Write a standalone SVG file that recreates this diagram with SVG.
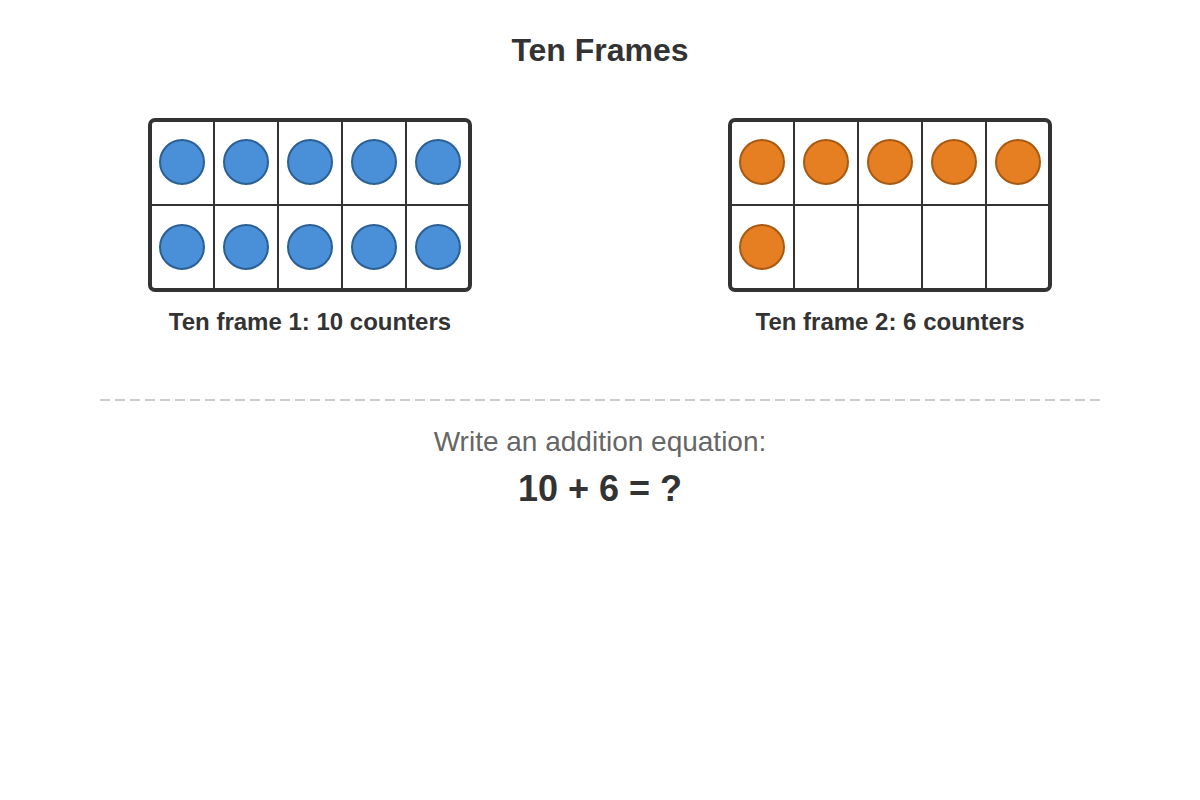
<svg xmlns="http://www.w3.org/2000/svg" width="1200" height="800" viewBox="0 0 1200 800">
<style>
.t{font-family:"Liberation Sans",Arial,sans-serif;fill:#333;text-anchor:middle}
.frame{fill:#fff;stroke:#333;stroke-width:4}
.cell{stroke:#333;stroke-width:2}
.b{fill:#4a90d9;stroke:#2c5f93;stroke-width:2}
.o{fill:#e67e22;stroke:#a85a15;stroke-width:2}
</style>
<rect width="1200" height="800" fill="#fff"/>
<text class="t" x="600" y="61" font-size="32" font-weight="bold">Ten Frames</text>
<g id="frame1">
<rect class="frame" x="150" y="120" width="320" height="170" rx="5"/>
<g class="cell"><line x1="214" y1="120" x2="214" y2="290"/><line x1="278" y1="120" x2="278" y2="290"/><line x1="342" y1="120" x2="342" y2="290"/><line x1="406" y1="120" x2="406" y2="290"/><line x1="150" y1="205" x2="470" y2="205"/></g>
<circle class="b" cx="182" cy="162" r="22"/><circle class="b" cx="246" cy="162" r="22"/><circle class="b" cx="310" cy="162" r="22"/><circle class="b" cx="374" cy="162" r="22"/><circle class="b" cx="438" cy="162" r="22"/>
<circle class="b" cx="182" cy="247" r="22"/><circle class="b" cx="246" cy="247" r="22"/><circle class="b" cx="310" cy="247" r="22"/><circle class="b" cx="374" cy="247" r="22"/><circle class="b" cx="438" cy="247" r="22"/>
<text class="t" x="310" y="330" font-size="24" font-weight="bold">Ten frame 1: 10 counters</text>
</g>
<g id="frame2">
<rect class="frame" x="730" y="120" width="320" height="170" rx="5"/>
<g class="cell"><line x1="794" y1="120" x2="794" y2="290"/><line x1="858" y1="120" x2="858" y2="290"/><line x1="922" y1="120" x2="922" y2="290"/><line x1="986" y1="120" x2="986" y2="290"/><line x1="730" y1="205" x2="1050" y2="205"/></g>
<circle class="o" cx="762" cy="162" r="22"/><circle class="o" cx="826" cy="162" r="22"/><circle class="o" cx="890" cy="162" r="22"/><circle class="o" cx="954" cy="162" r="22"/><circle class="o" cx="1018" cy="162" r="22"/>
<circle class="o" cx="762" cy="247" r="22"/>
<text class="t" x="890" y="330" font-size="24" font-weight="bold">Ten frame 2: 6 counters</text>
</g>
<g id="connectors"><line x1="100" y1="400" x2="1100" y2="400" stroke="#ccc" stroke-width="2" stroke-dasharray="10,5"/></g>
<text class="t" x="600" y="451" font-size="28" style="fill:#666">Write an addition equation:</text>
<text class="t" x="600" y="501" font-size="36" font-weight="bold">10 + 6 = ?</text>
</svg>
